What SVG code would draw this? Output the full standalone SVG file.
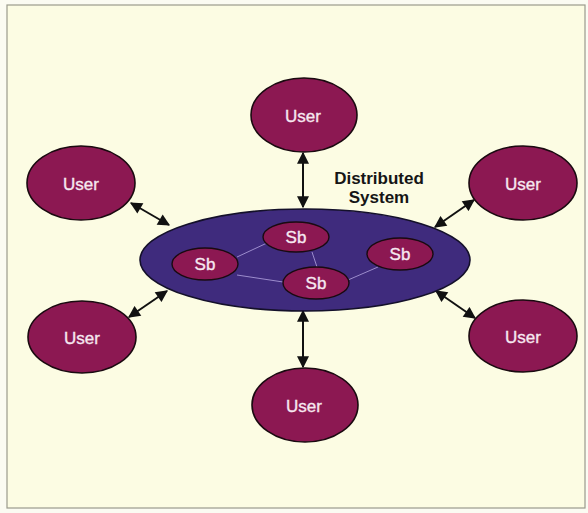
<svg xmlns="http://www.w3.org/2000/svg" width="588" height="513" viewBox="0 0 588 513">
<style>
.user{fill:#8c1852;stroke:#1a0a10;stroke-width:1.6}
.sb{fill:#8c1852;stroke:#1a0a10;stroke-width:1.4}
.sys{fill:#3f2b7d;stroke:#14102a;stroke-width:1.6}
.lbl{font-family:"Liberation Sans",Arial,sans-serif;font-size:17px;fill:#f6e8f0;stroke:#f6e8f0;stroke-width:0.35;text-anchor:middle}
.title{font-family:"Liberation Sans",Arial,sans-serif;font-size:17px;font-weight:bold;fill:#151515;text-anchor:middle}
.arr{stroke:#111;stroke-width:2;fill:none;marker-start:url(#ah);marker-end:url(#ah)}
.link{stroke:#9c8ccc;stroke-width:1;fill:none}
</style>
<defs>
<marker id="ah" viewBox="0 0 10 10" refX="9" refY="5" markerWidth="7" markerHeight="6" orient="auto-start-reverse" markerUnits="strokeWidth">
<path d="M0,0 L10,5 L0,10 Z" fill="#111"/>
</marker>
</defs>
<rect x="0" y="0" width="588" height="513" fill="#fbfbf2"/>
<rect x="7" y="5" width="578" height="503" fill="#fcfce3" stroke="#9a9a8c" stroke-width="1.2"/>
<g id="connectors">
<line class="arr" x1="303" y1="153" x2="303" y2="207"/>
<line class="arr" x1="303" y1="311" x2="303" y2="367"/>
<line class="arr" x1="131" y1="203" x2="169" y2="225"/>
<line class="arr" x1="129" y1="317" x2="167" y2="291"/>
<line class="arr" x1="474" y1="200" x2="435" y2="227"/>
<line class="arr" x1="436" y1="291" x2="475" y2="318"/>
</g>
<g id="system">
<ellipse class="sys" cx="305" cy="260" rx="165" ry="51"/>
<g id="links">
<line class="link" x1="237" y1="257" x2="267" y2="243"/>
<line class="link" x1="237" y1="275" x2="283" y2="282"/>
<line class="link" x1="312" y1="252" x2="317" y2="267"/>
<line class="link" x1="348" y1="280" x2="378" y2="267"/>
</g>
</g>
<g id="sb1"><ellipse class="sb" cx="205" cy="264" rx="33" ry="16"/><text class="lbl" x="205" y="270">Sb</text></g>
<g id="sb2"><ellipse class="sb" cx="296" cy="237" rx="33" ry="15"/><text class="lbl" x="296" y="243">Sb</text></g>
<g id="sb3"><ellipse class="sb" cx="316" cy="283" rx="33" ry="16"/><text class="lbl" x="316" y="289">Sb</text></g>
<g id="sb4"><ellipse class="sb" cx="400" cy="254" rx="33" ry="16"/><text class="lbl" x="400" y="260">Sb</text></g>
<g id="user-top"><ellipse class="user" cx="304" cy="115" rx="53" ry="37"/><text class="lbl" x="303" y="122">User</text></g>
<g id="user-bottom"><ellipse class="user" cx="305" cy="405" rx="53" ry="37"/><text class="lbl" x="304" y="412">User</text></g>
<g id="user-left-top"><ellipse class="user" cx="81" cy="183" rx="54" ry="37"/><text class="lbl" x="81" y="190">User</text></g>
<g id="user-left-bottom"><ellipse class="user" cx="82" cy="337" rx="54" ry="36"/><text class="lbl" x="82" y="344">User</text></g>
<g id="user-right-top"><ellipse class="user" cx="523" cy="183" rx="54" ry="37"/><text class="lbl" x="523" y="190">User</text></g>
<g id="user-right-bottom"><ellipse class="user" cx="523" cy="336" rx="54" ry="36"/><text class="lbl" x="523" y="343">User</text></g>
<g id="label"><text class="title" x="379" y="184">Distributed</text><text class="title" x="379" y="203">System</text></g>
</svg>
